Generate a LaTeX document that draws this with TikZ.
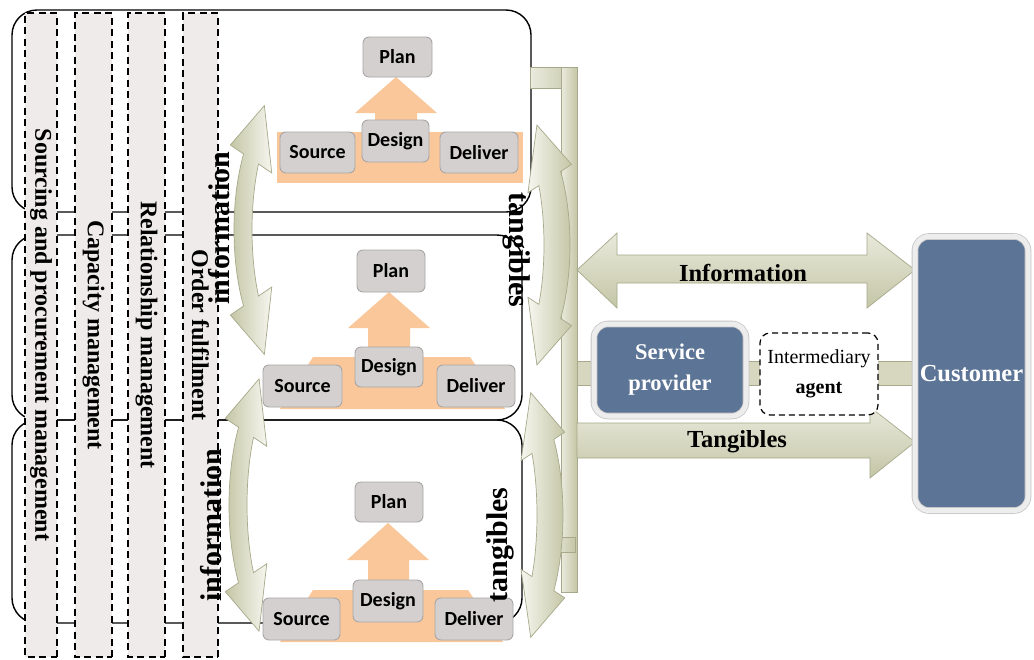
\documentclass[tikz,border=0pt]{standalone}
\usepackage{fontspec}
\setmainfont{Liberation Serif}
\newfontfamily\calib{Carlito}
\usetikzlibrary{calc}
\definecolor{boxgray}{HTML}{D4D0D0}
\definecolor{boxedge}{HTML}{A9A6A6}
\definecolor{orng}{HTML}{F9C79A}
\definecolor{colfill}{HTML}{EFEBEB}
\definecolor{olive}{HTML}{D6D7BE}
\definecolor{olivedark}{HTML}{C4C6A6}
\definecolor{olivelight}{HTML}{F6F6EF}
\definecolor{oliveedge}{HTML}{A7A98A}
\definecolor{slate}{HTML}{5C7495}
\definecolor{glow}{HTML}{EDEDED}
\definecolor{glowedge}{HTML}{C6C6C6}
% curved double-headed band: [style]{cx}{cy}{A}{B}{t1}{t2}
\def\bwid{8}\def\bhead{20}\def\blen{55}
\newcommand{\bendarrow}[7][]{%
 \path[#1] plot[domain=#6:#7, samples=40] ({#2+(#4-\bwid)*cos(\x)},{#3+(#5-\bwid)*sin(\x)})
  -- ({#2+(#4-\bhead)*cos(#7)},{#3+(#5-\bhead)*sin(#7)})
  -- ({#2+#4*cos(#7)-\blen*#4*sin(#7)/veclen(#4*sin(#7),#5*cos(#7))},{#3+#5*sin(#7)+\blen*#5*cos(#7)/veclen(#4*sin(#7),#5*cos(#7))})
  -- ({#2+(#4+\bhead)*cos(#7)},{#3+(#5+\bhead)*sin(#7)})
  -- plot[domain=#7:#6, samples=40] ({#2+(#4+\bwid)*cos(\x)},{#3+(#5+\bwid)*sin(\x)})
  -- ({#2+(#4+\bhead)*cos(#6)},{#3+(#5+\bhead)*sin(#6)})
  -- ({#2+#4*cos(#6)+\blen*#4*sin(#6)/veclen(#4*sin(#6),#5*cos(#6))},{#3+#5*sin(#6)-\blen*#5*cos(#6)/veclen(#4*sin(#6),#5*cos(#6))})
  -- ({#2+(#4-\bhead)*cos(#6)},{#3+(#5-\bhead)*sin(#6)})
  -- cycle;
}
\begin{document}
\begin{tikzpicture}[x=1pt,y=-1pt,
  sect/.style={draw=black, line width=1.4pt, rounded corners=25pt},
  colbox/.style={draw=black, fill=colfill, dash pattern=on 7pt off 4.5pt, line width=1.2pt, rotate=-90, inner sep=0pt, font=\bfseries\fontsize{24}{24}\selectfont},
  sbox/.style={draw=boxedge, fill=boxgray, rounded corners=6pt, line width=0.9pt, inner sep=0pt, font=\calib\bfseries\fontsize{20}{20}\selectfont},
  orangeshape/.style={fill=orng},
  wordart/.style={font=\bfseries\fontsize{30}{30}\selectfont, inner sep=0pt},
  arcL/.style={draw=oliveedge, line width=0.7pt, left color=olivedark, right color=olivelight},
  arcR/.style={draw=oliveedge, line width=0.7pt, left color=olivelight, right color=olivedark},
  flatarrow/.style={draw=oliveedge, line width=0.7pt, top color=olive!55!white, bottom color=olivedark},
  barstyle/.style={draw=oliveedge, line width=0.6pt, left color=olive!50!white, right color=olivedark},
  bluebox/.style={fill=slate, draw=glowedge, double=glow, double distance=5pt, line width=0.8pt, rounded corners=14pt, text=white, inner sep=0pt, align=center},
  agentbox/.style={draw=black, fill=white, dash pattern=on 6pt off 4pt, line width=1.2pt, rounded corners=10pt, inner sep=0pt, align=center, font=\fontsize{20}{30}\selectfont},
  biglabel/.style={font=\bfseries\fontsize{24.5}{24.5}\selectfont, inner sep=0pt}
]
\useasboundingbox (0,0) rectangle (1034,659);
\fill[white] (0,0) rectangle (1034,659);

% section outlines
\draw[sect] (12,10) rectangle (531,212);
\draw[sect] (12,235) rectangle (522,420);
\draw[sect] (12,420) rectangle (522,623);

% dashed function columns
\node[colbox, minimum width=644pt, minimum height=32pt] (col1) at (41,335) {Sourcing and procurement management};
\node[colbox, minimum width=644pt, minimum height=37pt] (col2) at (93.5,335) {Capacity management};
\node[colbox, minimum width=644pt, minimum height=37pt] (col3) at (146.5,335) {Relationship management};
\node[colbox, minimum width=644pt, minimum height=35pt] (col4) at (200.5,335) {Order fulfilment};

% right vertical bar and links
\path[fill=olive, draw=oliveedge, line width=0.6pt] (577,361) rectangle (918,385);
\path[barstyle] (530,67) rectangle (577,88);
\path[barstyle] (561,67) rectangle (577,592);
\path[barstyle] (553,537) rectangle (575,552);

% orange arrows, unit 1
\fill[orangeshape] (277,132) rectangle (523,183);
\fill[orangeshape] (375,122) -- (375,113) -- (355,113) -- (396,77) -- (437,113) -- (417,113) -- (417,122) -- cycle;
% unit 2
\fill[orangeshape] (313,357) -- (470,357) -- (505,409) -- (280,409) -- cycle;
\fill[orangeshape] (368,350) -- (368,328) -- (348,328) -- (389,292) -- (430,328) -- (410,328) -- (410,350) -- cycle;
% unit 3
\fill[orangeshape] (313,590) -- (468,590) -- (503,642) -- (280,642) -- cycle;
\fill[orangeshape] (368,583) -- (368,560) -- (347,560) -- (388,523) -- (429,560) -- (409,560) -- (409,583) -- cycle;

% unit boxes
\node[sbox, minimum width=69pt, minimum height=40pt] (plan1) at (397.5,57) {Plan};
\node[sbox, minimum width=75pt, minimum height=41pt] (source1) at (317.5,152.5) {Source};
\node[sbox, minimum width=67pt, minimum height=42pt] (design1) at (395.5,141) {Design};
\node[sbox, minimum width=78pt, minimum height=41pt] (deliver1) at (479,152.5) {Deliver};

\node[sbox, minimum width=68pt, minimum height=42pt] (plan2) at (391,271) {Plan};
\node[sbox, minimum width=79pt, minimum height=42pt] (source2) at (302.5,386) {Source};
\node[sbox, minimum width=68pt, minimum height=40pt] (design2) at (389,367) {Design};
\node[sbox, minimum width=78pt, minimum height=42pt] (deliver2) at (476,386) {Deliver};

\node[sbox, minimum width=68pt, minimum height=40pt] (plan3) at (389,502) {Plan};
\node[sbox, minimum width=77pt, minimum height=42pt] (source3) at (301.5,619) {Source};
\node[sbox, minimum width=70pt, minimum height=42pt] (design3) at (388,601) {Design};
\node[sbox, minimum width=78pt, minimum height=42pt] (deliver3) at (474,619) {Deliver};

% curved arrows
\def\bwid{9}\def\bhead{25}\def\blen{55}
\bendarrow[arcL]{290}{230}{47}{127}{146}{214}
\bendarrow[arcL]{285}{505}{47}{130}{146}{214}
\def\bwid{13}\def\bhead{26}
\bendarrow[arcR]{512}{245}{45}{122}{-33}{33}
\bendarrow[arcR]{506}{515}{44}{126}{-33}{33}

\node[wordart, rotate=90] (info1) at (219,228) {information};
\node[wordart, rotate=90] (info2) at (211,525) {information};
\node[wordart, rotate=-90] (tang1) at (517,250) {tangibles};
\node[wordart, rotate=90] (tang2) at (500,545) {tangibles};

% straight arrows to customer
\path[flatarrow] (577,270) -- (617,233) -- (617,255) -- (867,255) -- (867,233) -- (915,270) -- (867,308) -- (867,283) -- (617,283) -- (617,308) -- cycle;
\path[flatarrow] (577,423) -- (870,423) -- (870,407) -- (915,442) -- (870,478) -- (870,458) -- (577,458) -- cycle;
\node[biglabel] (infolbl) at (743,273) {Information};
\node[biglabel] (tanglbl) at (737,442) {Tangibles};

% actors
\node[bluebox, minimum width=152pt, minimum height=92pt, font=\bfseries\fontsize{22.5}{31}\selectfont] (sp) at (670,370) {Service\\provider};
\node[agentbox, minimum width=118pt, minimum height=82pt] (agent) at (819,374) {Intermediary\\\textbf{agent}};
\node[bluebox, minimum width=113pt, minimum height=274pt, font=\bfseries\fontsize{24.5}{24.5}\selectfont] (cust) at (971.5,373.5) {Customer};
\end{tikzpicture}
\end{document}
